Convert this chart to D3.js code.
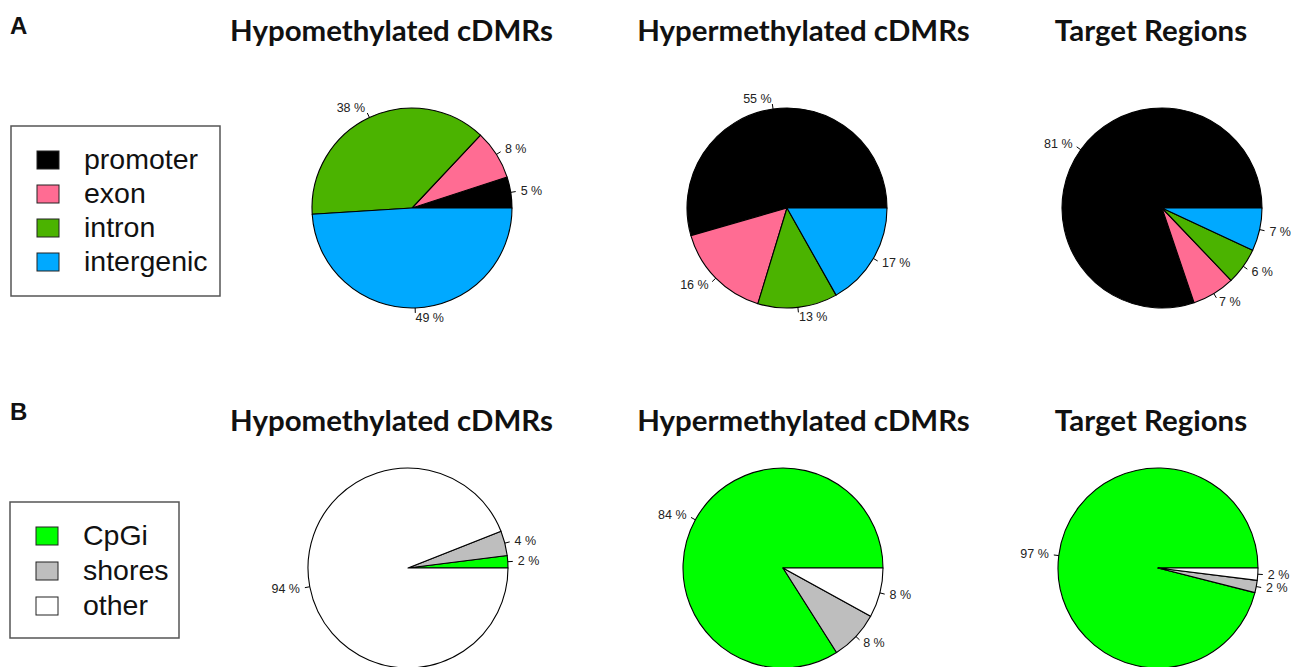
<!DOCTYPE html>
<html>
<head>
<meta charset="utf-8">
<script src="https://cdn.jsdelivr.net/npm/d3@7"></script>
<style>
  html, body { margin: 0; padding: 0; background: #fff; }
  svg { display: block; }
</style>
</head>
<body>
<svg id="chart" width="1291" height="667"></svg>
<script>
// Genomic feature categories (panel A)
const regionCategories = ["promoter", "exon", "intron", "intergenic"];
const regionColors = ["#000000", "#FF6C93", "#4BB300", "#00A9FF"];
const hypoRegion = [5, 8, 38, 49];
const hyperRegion = [55, 16, 13, 17];
const targetRegion = [81, 7, 6, 7];

// CpG context categories (panel B)
const cpgCategories = ["CpGi", "shores", "other"];
const cpgColors = ["#00FF00", "#BEBEBE", "#FFFFFF"];
const hypoCpg = [2, 4, 94];
const hyperCpg = [84, 8, 8];
const targetCpg = [97, 2, 2];

const pieTitles = ["Hypomethylated cDMRs", "Hypermethylated cDMRs", "Target Regions"];
const panelLetters = ["A", "B"];

const svg = d3.select("#chart");
const R = 100;

// Slices run counter-clockwise from 3 o'clock
const pie = d3.pie().sort(null).value(d => d.value)
  .startAngle(Math.PI / 2).endAngle(Math.PI / 2 - 2 * Math.PI);
const arc = d3.arc().innerRadius(0).outerRadius(R);
const tickIn = d3.arc().innerRadius(R).outerRadius(R);
const tickOut = d3.arc().innerRadius(R * 1.05).outerRadius(R * 1.05);
const labelArc = d3.arc().innerRadius(R * 1.1).outerRadius(R * 1.1);

function drawPie(cx, cy, values, cats, colors) {
  const color = d3.scaleOrdinal().domain(cats).range(colors);
  const data = values.map((v, i) => ({ cat: cats[i], value: v }));
  const g = svg.append("g").attr("transform", `translate(${cx},${cy})`);
  const arcs = pie(data);
  g.selectAll("path.slice").data(arcs).join("path")
    .attr("class", "slice")
    .attr("d", arc)
    .attr("fill", d => color(d.data.cat))
    .attr("stroke", "#000")
    .attr("stroke-width", 1.1)
    .attr("stroke-linejoin", "round");
  g.selectAll("line.tick").data(arcs).join("line")
    .attr("class", "tick")
    .attr("x1", d => tickIn.centroid(d)[0])
    .attr("y1", d => tickIn.centroid(d)[1])
    .attr("x2", d => tickOut.centroid(d)[0])
    .attr("y2", d => tickOut.centroid(d)[1])
    .attr("stroke", "#000")
    .attr("stroke-width", 1);
  g.selectAll("text.lab").data(arcs).join("text")
    .attr("class", "lab")
    .attr("x", d => labelArc.centroid(d)[0])
    .attr("y", d => labelArc.centroid(d)[1])
    .attr("text-anchor", d => labelArc.centroid(d)[0] < 0 ? "end" : "start")
    .attr("dominant-baseline", "central")
    .attr("font-family", "Liberation Sans, Arial, sans-serif")
    .attr("font-size", 12.5)
    .attr("fill", "#222")
    .text(d => d.data.value + " %");
}

function drawLegend(x, y, w, h, cats, colors, rowTop, rowGap) {
  const g = svg.append("g");
  g.append("rect").attr("x", x).attr("y", y).attr("width", w).attr("height", h)
    .attr("fill", "#fff").attr("stroke", "#555").attr("stroke-width", 1.5);
  cats.forEach((c, i) => {
    const cy = rowTop + i * rowGap;
    g.append("rect").attr("x", x + 26).attr("y", cy - 9).attr("width", 22).attr("height", 18)
      .attr("fill", colors[i]).attr("stroke", "#222").attr("stroke-width", 1);
    g.append("text").attr("x", x + 73).attr("y", cy + 9)
      .attr("font-family", "Liberation Sans, Arial, sans-serif")
      .attr("font-size", 28.5).attr("fill", "#111").text(c);
  });
}

// Titles: a shared bold size fitted to the first title's width
const titleX = [391.5, 803.5, 1151];
const titleFont = "Lato, 'Open Sans', sans-serif";
const probe = svg.append("text").attr("font-family", titleFont).attr("font-weight", 700)
  .attr("font-size", 100).text(pieTitles[0]);
const titleSize = 100 * 323 / probe.node().getComputedTextLength();
probe.remove();

[41, 431].forEach(by => {
  pieTitles.forEach((t, i) => {
    svg.append("text").attr("x", titleX[i]).attr("y", by)
      .attr("text-anchor", "middle")
      .attr("font-family", titleFont).attr("font-weight", 700)
      .attr("font-size", titleSize).attr("fill", "#111").text(t);
  });
});

panelLetters.forEach((L, i) => {
  svg.append("text").attr("x", 10).attr("y", [34, 420][i])
    .attr("font-family", "Liberation Sans, Arial, sans-serif").attr("font-weight", 700)
    .attr("font-size", 24).attr("fill", "#111").text(L);
});

// Panel A
drawLegend(11, 126, 209, 170, regionCategories, regionColors, 160, 34);
drawPie(412, 208, hypoRegion, regionCategories, regionColors);
drawPie(787, 208, hyperRegion, regionCategories, regionColors);
drawPie(1162, 208, targetRegion, regionCategories, regionColors);

// Panel B
drawLegend(10, 502, 169, 136, cpgCategories, cpgColors, 536, 35);
drawPie(408, 568, hypoCpg, cpgCategories, cpgColors);
drawPie(783, 568, hyperCpg, cpgCategories, cpgColors);
drawPie(1158, 568, targetCpg, cpgCategories, cpgColors);
</script>
</body>
</html>
